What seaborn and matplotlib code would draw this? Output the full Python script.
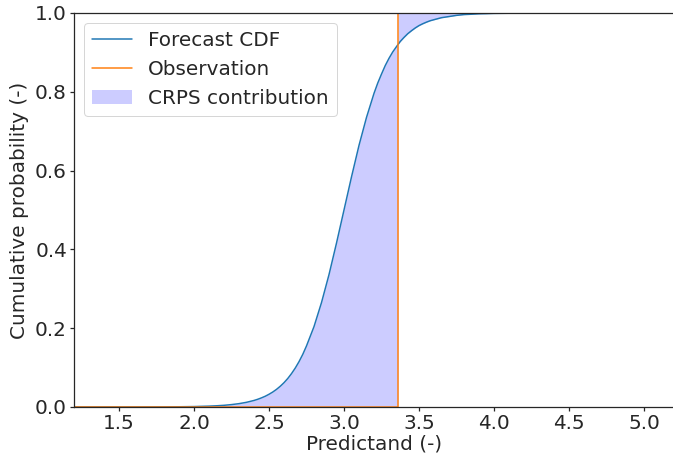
import numpy as np
import pandas as pd
import matplotlib
matplotlib.use("Agg")
import matplotlib.pyplot as plt
import seaborn as sns

# Forecast CDF sampled on a grid of predictand values
predictand = [1.2, 1.6, 1.8, 1.9, 2.0, 2.1, 2.15, 2.2, 2.25, 2.3, 2.35, 2.4,
              2.425, 2.45, 2.475, 2.5, 2.525, 2.55, 2.575, 2.6, 2.625, 2.65,
              2.675, 2.7, 2.725, 2.75, 2.8, 2.85, 2.9, 2.95, 3.0, 3.05, 3.1,
              3.15, 3.2, 3.225, 3.25, 3.275, 3.3, 3.325, 3.36, 3.375, 3.4,
              3.425, 3.45, 3.475, 3.5, 3.525, 3.55, 3.575, 3.6, 3.65, 3.7,
              3.75, 3.8, 3.85, 3.9, 3.95, 4.0, 4.1, 4.2, 4.4, 5.2]
cdf = [0.0, 0.0001, 0.0003, 0.0006, 0.0011, 0.0022, 0.0031, 0.0043, 0.0061,
       0.0085, 0.0119, 0.0166, 0.0196, 0.0232, 0.0273, 0.0323, 0.0380, 0.0447,
       0.0526, 0.0617, 0.0723, 0.0847, 0.0988, 0.115, 0.1335, 0.155, 0.204,
       0.265, 0.336, 0.416, 0.5, 0.584, 0.664, 0.735, 0.796, 0.8222, 0.845,
       0.8666, 0.885, 0.9012, 0.920, 0.9277, 0.938, 0.9474, 0.955, 0.9620,
       0.968, 0.9727, 0.9768, 0.9804, 0.983, 0.9881, 0.991, 0.9940, 0.996,
       0.9969, 0.998, 0.9984, 0.999, 0.9994, 0.9997, 0.9999, 1.0]
observation = 3.36

x_min, x_max = 1.2, 5.2
x_ticks = [1.5, 2.0, 2.5, 3.0, 3.5, 4.0, 4.5, 5.0]
y_ticks = [0.0, 0.2, 0.4, 0.6, 0.8, 1.0]

sns.set_theme(style="ticks")
plt.rcParams["font.family"] = ["DejaVu Sans"]

FS = 20
W, H, DPI = 673, 456, 72
fig = plt.figure(figsize=(W / DPI, H / DPI), dpi=DPI)
ax = fig.add_axes([74 / W, 49 / H, 600 / W, 394 / H])

x = np.array(predictand)
F = np.array(cdf)

cdf_df = pd.DataFrame({"x": x, "F": F})
obs_df = pd.DataFrame({"x": [x_min, observation, observation, x_max],
                       "F": [0.0, 0.0, 1.0, 1.0]})

sns.lineplot(data=cdf_df, x="x", y="F", ax=ax, color="tab:blue", lw=1.5,
             sort=False, estimator=None, label="Forecast CDF")
sns.lineplot(data=obs_df, x="x", y="F", ax=ax, color="tab:orange", lw=1.5,
             sort=False, estimator=None, label="Observation")

below = x <= observation
above = x >= observation
ax.fill_between(x[below], 0, F[below], color="blue", alpha=0.2, lw=0,
                label="CRPS contribution")
ax.fill_between(x[above], F[above], 1, color="blue", alpha=0.2, lw=0)

ax.set_xlim(x_min, x_max)
ax.set_ylim(0, 1)
ax.set_xticks(x_ticks)
ax.set_yticks(y_ticks)
ax.tick_params(labelsize=FS, length=4, color=".15", pad=3)
ax.set_xlabel("Predictand (-)", fontsize=FS, labelpad=1)
ax.set_ylabel("Cumulative probability (-)", fontsize=FS, labelpad=6)
for s in ax.spines.values():
    s.set_color(".15")
ax.spines["right"].set_visible(False)

ax.legend(loc="upper left", fontsize=FS, frameon=True, framealpha=0.8,
          handlelength=2.0, borderaxespad=0.5)

fig.savefig("out.png", dpi=DPI)
